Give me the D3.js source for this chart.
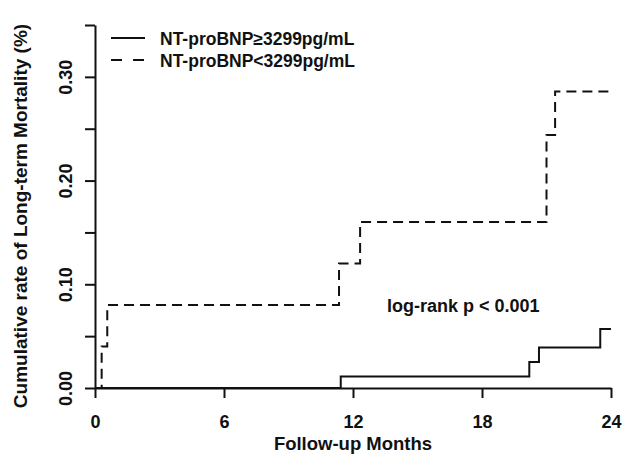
<!DOCTYPE html>
<html>
<head>
<meta charset="utf-8">
<script src="https://cdn.jsdelivr.net/npm/d3@7"></script>
<style>
  html, body { margin: 0; padding: 0; background: #fff; }
  svg { display: block; }
  text { font-family: "Liberation Sans", Arial, Helvetica, sans-serif; font-weight: bold; fill: #111; }
</style>
</head>
<body>
<div id="chart"></div>
<script>
// ---- data ----
const xTicks = [0, 6, 12, 18, 24];
const yTicks = [0, 0.05, 0.10, 0.15, 0.20, 0.25, 0.30, 0.35];
const yTickLabels = ["0.00", "", "0.10", "", "0.20", "", "0.30", ""];
const seriesNames = ["NT-proBNP\u22653299pg/mL", "NT-proBNP<3299pg/mL"];
const highTimes = [0, 11.43, 20.2, 20.65, 23.5, 24];
const highRisk  = [0, 0.011, 0.025, 0.039, 0.057, 0.057];
const lowTimes  = [0, 0.31, 0.57, 11.35, 12.33, 21.0, 21.4, 24];
const lowRisk   = [0, 0.04, 0.08, 0.12, 0.16, 0.244, 0.286, 0.286];
const pText = "log-rank p < 0.001";
const xTitle = "Follow-up Months";
const yTitle = "Cumulative rate of Long-term Mortality (%)";

const W = 623, H = 454;
const svg = d3.select("#chart").append("svg").attr("width", W).attr("height", H);

const x = d3.scaleLinear().domain([0, 24]).range([95, 611]);
const y = d3.scaleLinear().domain([0, 0.35]).range([388, 25]);

// axes
const xAxis = svg.append("g").attr("transform", `translate(0,${y(0)})`)
  .call(d3.axisBottom(x).tickValues(xTicks).tickSize(10).tickSizeOuter(0).tickFormat(d3.format("d")));
const yAxis = svg.append("g").attr("transform", `translate(${x(0)},0)`)
  .call(d3.axisLeft(y).tickValues(yTicks).tickSize(10).tickSizeOuter(0).tickFormat((d, i) => yTickLabels[i]));

[xAxis, yAxis].forEach(g => {
  g.selectAll("path.domain").attr("stroke", "#111").attr("stroke-width", 2);
  g.selectAll(".tick line").attr("stroke", "#111").attr("stroke-width", 2);
  g.selectAll("text").attr("font-size", 18).attr("font-family", "Liberation Sans, Arial, sans-serif").attr("font-weight", "bold").attr("fill", "#111");
});
xAxis.selectAll(".tick text").attr("y", 0).attr("dy", 0).attr("transform", "translate(0,40)");
yAxis.selectAll(".tick text")
  .attr("x", 0).attr("dy", 0).attr("text-anchor", "middle")
  .attr("transform", "translate(-23,0) rotate(-90)");

// curves
const line = d3.line().x(d => x(d[0])).y(d => y(d[1])).curve(d3.curveStepAfter);
svg.append("path").datum(highTimes.map((t, i) => [t, highRisk[i]]))
  .attr("d", line).attr("fill", "none").attr("stroke", "#111").attr("stroke-width", 2);
svg.append("path").datum(lowTimes.map((t, i) => [t, lowRisk[i]]))
  .attr("d", line).attr("fill", "none").attr("stroke", "#111").attr("stroke-width", 2)
  .attr("stroke-dasharray", "10,6");

// legend
const leg = svg.append("g");
[0, 1].forEach(i => {
  const ly = 38 + i * 22;
  leg.append("line").attr("x1", 111).attr("x2", 145).attr("y1", ly).attr("y2", ly)
    .attr("stroke", "#111").attr("stroke-width", 2)
    .attr("stroke-dasharray", i === 1 ? "11,11" : null);
  leg.append("text").attr("x", 160).attr("y", ly + 7).attr("font-size", 17.5).text(seriesNames[i]);
});

// annotation
svg.append("text").attr("x", 387).attr("y", 312).attr("font-size", 18).text(pText);

// titles
svg.append("text").attr("x", (x(0) + x(24)) / 2).attr("y", 450).attr("text-anchor", "middle")
  .attr("font-size", 18.5).text(xTitle);
svg.append("text").attr("transform", "translate(27,216) rotate(-90)").attr("text-anchor", "middle")
  .attr("font-size", 19).text(yTitle);
</script>
</body>
</html>
